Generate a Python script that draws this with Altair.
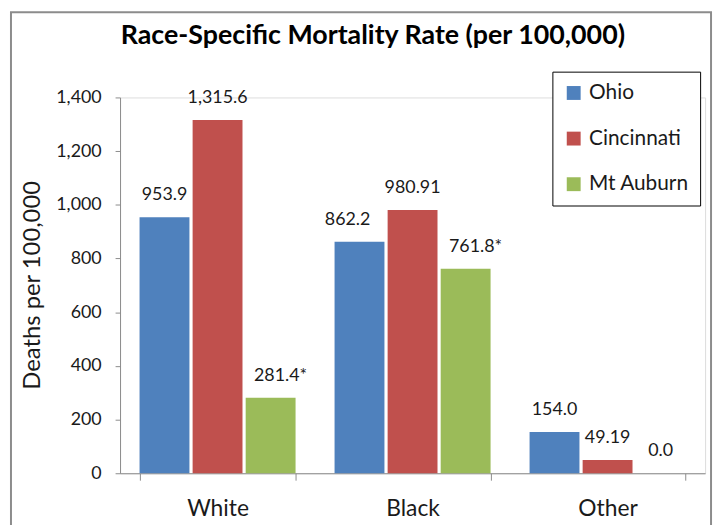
import altair as alt
import pandas as pd

groups = ["White", "Black", "Other"]
series = ["Ohio", "Cincinnati", "Mt Auburn"]
ohio = [953.9, 862.2, 154.0]
cincinnati = [1315.6, 980.91, 49.19]
mt_auburn = [281.4, 761.8, 0.0]
ohio_labels = ["953.9", "862.2", "154.0"]
cincinnati_labels = ["1,315.6", "980.91", "49.19"]
mt_auburn_labels = ["281.4*", "761.8*", "0.0"]
y_ticks = [0, 200, 400, 600, 800, 1000, 1200, 1400]
colors = ["#4F81BD", "#C0504D", "#9BBB59"]

rows = []
for vals, labs, s in [(ohio, ohio_labels, "Ohio"),
                      (cincinnati, cincinnati_labels, "Cincinnati"),
                      (mt_auburn, mt_auburn_labels, "Mt Auburn")]:
    for g, v, l in zip(groups, vals, labs):
        rows.append({"group": g, "series": s, "value": v, "label": l})
df = pd.DataFrame(rows)

FONT = "Lato"
TXT = "#1a1a1a"
AX = "#8c8c8c"

x_enc = alt.X("group:N", sort=groups,
              scale=alt.Scale(paddingInner=0.2, paddingOuter=0.1),
              axis=alt.Axis(title=None, labelFontSize=23, labelColor=TXT, labelFont=FONT,
                            labelAngle=0, domainColor=AX, tickColor=AX, tickSize=7,
                            tickBand="extent", labelPadding=18, grid=False))
xoff = alt.XOffset("series:N", sort=series, scale=alt.Scale(paddingInner=0.06, paddingOuter=0))
y_enc = alt.Y("value:Q", scale=alt.Scale(domain=[0, 1400], nice=False),
              axis=alt.Axis(values=y_ticks, format=",.0f", title="Deaths per 100,000",
                            titleFontSize=24, titleFontWeight="normal", titleFont=FONT,
                            titleColor=TXT, titleX=-88, titleY=189, titleAngle=-90,
                            titleAlign="center", titleBaseline="middle",
                            labelFontSize=18, labelColor=TXT, labelFont=FONT,
                            domainColor=AX, tickColor=AX, tickSize=5, labelPadding=14,
                            grid=False))

base = alt.Chart(df)

bars = base.mark_bar().encode(
    x=x_enc, xOffset=xoff, y=y_enc,
    color=alt.Color("series:N", sort=series,
                    scale=alt.Scale(domain=series, range=colors),
                    legend=alt.Legend(title=None, orient="none", legendX=436, legendY=-26,
                                      strokeColor="#000000", fillColor="#ffffff", padding=11,
                                      symbolType="square", symbolSize=196, symbolStrokeWidth=0,
                                      labelFontSize=21, labelFont=FONT, labelColor=TXT,
                                      rowPadding=24, labelOffset=5)),
)

shift_left = ["862.2"]
shift_right = ["281.4*", "761.8*"]

def text_layer(dx, pred):
    return base.transform_filter(pred).mark_text(
        dy=-22, dx=dx, baseline="middle", align="center", fontSize=18, font=FONT, color=TXT
    ).encode(x=alt.X("group:N", sort=groups), xOffset=alt.XOffset("series:N", sort=series),
             y="value:Q", text="label:N")

t_center = text_layer(0, ~alt.FieldOneOfPredicate(field="label", oneOf=shift_left + shift_right))
t_left = text_layer(-12, alt.FieldOneOfPredicate(field="label", oneOf=shift_left))
t_right = text_layer(10, alt.FieldOneOfPredicate(field="label", oneOf=shift_right))

frame = alt.Chart(pd.DataFrame({"a": [0]})).mark_rect(
    fillOpacity=0, stroke="#8c8c8c", strokeWidth=2
).encode(x=alt.value(-110), x2=alt.value(596), y=alt.value(-86), y2=alt.value(470))

chart = alt.layer(frame, bars, t_center, t_left, t_right).properties(
    width=590, height=379,
    autosize=alt.AutoSizeParams(type="none"),
    padding={"left": 113, "top": 88, "right": 10, "bottom": 50},
    title=alt.Title("Race-Specific Mortality Rate (per 100,000)", fontSize=27, fontWeight="bold",
                    font=FONT, color="#000000", anchor="middle", frame="group", dx=-40,
                    offset=0, dy=52, baseline="middle"),
).configure_view(stroke=None).configure(background="#ffffff")

chart.save("out.html", embed_options={"renderer": "svg", "actions": False})
